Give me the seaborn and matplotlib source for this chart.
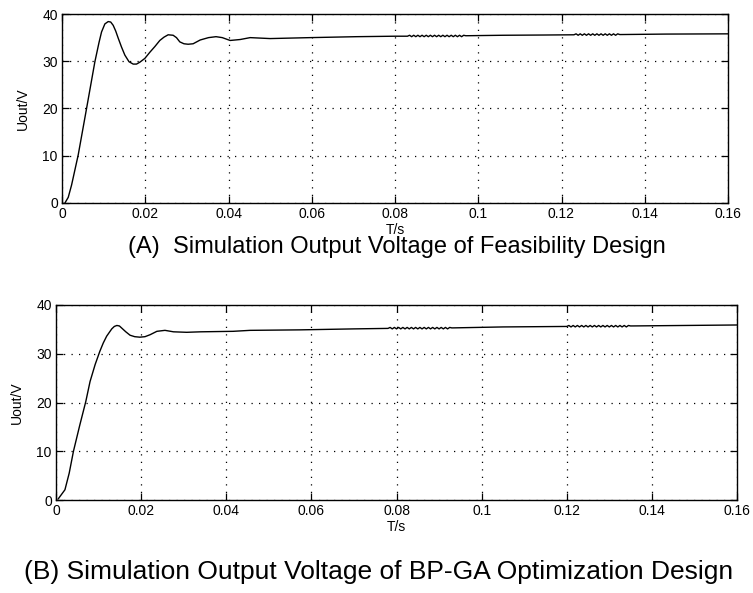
import numpy as np
import pandas as pd
import matplotlib
matplotlib.use("Agg")
import matplotlib.pyplot as plt
import seaborn as sns

# ---- data ----
t_a = [0.0007, 0.0015, 0.0023, 0.0039, 0.0059, 0.0079, 0.0089, 0.0095, 0.0103, 0.0111,
       0.0117, 0.0123, 0.0129, 0.0135, 0.0143, 0.0151, 0.0161, 0.0171, 0.0179, 0.0187,
       0.0199, 0.0211, 0.0223, 0.0235, 0.0245, 0.0255, 0.0267, 0.0275, 0.0283, 0.0293,
       0.0303, 0.0315, 0.0332, 0.0352, 0.0370, 0.0385, 0.0404, 0.0428, 0.0452, 0.0500,
       0.0548, 0.0596, 0.0708, 0.0800,
       0.0830, 0.0835, 0.0840, 0.0845, 0.0850, 0.0855, 0.0860, 0.0865, 0.0870, 0.0875,
       0.0880, 0.0885, 0.0890, 0.0895, 0.0900, 0.0905, 0.0910, 0.0915, 0.0920, 0.0925,
       0.0930, 0.0935, 0.0940, 0.0945, 0.0950, 0.0955, 0.0960, 0.0965, 0.0970,
       0.1060, 0.1156,
       0.1230, 0.1235, 0.1240, 0.1245, 0.1250, 0.1255, 0.1260, 0.1265, 0.1270, 0.1275,
       0.1280, 0.1285, 0.1290, 0.1295, 0.1300, 0.1305, 0.1310, 0.1315, 0.1320, 0.1325,
       0.1330, 0.1335, 0.1340,
       0.1450, 0.1600]
v_a = [0.0, 1.2, 3.8, 10.2, 20.0, 29.9, 34.0, 36.2, 37.9, 38.4,
       38.3, 37.6, 36.4, 34.9, 33.0, 31.3, 29.9, 29.4, 29.4, 29.8,
       30.6, 31.9, 33.1, 34.4, 35.1, 35.6, 35.5, 35.0, 34.1, 33.7,
       33.6, 33.7, 34.5, 35.0, 35.2, 35.0, 34.4, 34.6, 35.0, 34.8,
       34.9, 35.0, 35.2, 35.3,
       35.3, 35.5, 35.2, 35.5, 35.2, 35.5, 35.2, 35.5, 35.2, 35.5,
       35.2, 35.5, 35.2, 35.5, 35.2, 35.5, 35.2, 35.5, 35.2, 35.5,
       35.2, 35.5, 35.2, 35.5, 35.2, 35.5, 35.2, 35.5, 35.4,
       35.5, 35.55,
       35.6, 35.8, 35.5, 35.8, 35.5, 35.8, 35.5, 35.8, 35.5, 35.8,
       35.5, 35.8, 35.5, 35.8, 35.5, 35.8, 35.5, 35.8, 35.5, 35.8,
       35.5, 35.8, 35.65,
       35.75, 35.8]

t_b = [0.0005, 0.0021, 0.0031, 0.0041, 0.0056, 0.0070, 0.0080, 0.0092, 0.0103, 0.0111,
       0.0119, 0.0131, 0.0137, 0.0143, 0.0149, 0.0154, 0.0164, 0.0174, 0.0185, 0.0197,
       0.0209, 0.0221, 0.0237, 0.0256, 0.0276, 0.0307, 0.0340, 0.0416, 0.0456, 0.0573,
       0.0700,
       0.0780, 0.0785, 0.0790, 0.0795, 0.0800, 0.0805, 0.0810, 0.0815, 0.0820, 0.0825,
       0.0830, 0.0835, 0.0840, 0.0845, 0.0850, 0.0855, 0.0860, 0.0865, 0.0870, 0.0875,
       0.0880, 0.0885, 0.0890, 0.0895, 0.0900, 0.0905, 0.0910, 0.0915, 0.0920, 0.0925,
       0.0930,
       0.1050,
       0.1200, 0.1205, 0.1210, 0.1215, 0.1220, 0.1225, 0.1230, 0.1235, 0.1240, 0.1245,
       0.1250, 0.1255, 0.1260, 0.1265, 0.1270, 0.1275, 0.1280, 0.1285, 0.1290, 0.1295,
       0.1300, 0.1305, 0.1310, 0.1315, 0.1320, 0.1325, 0.1330, 0.1335, 0.1340, 0.1345,
       0.1350,
       0.1600]
v_b = [0.2, 2.1, 5.5, 10.0, 15.4, 20.2, 24.3, 27.8, 30.5, 32.2,
       33.6, 35.1, 35.6, 35.8, 35.7, 35.3, 34.5, 33.8, 33.5, 33.4,
       33.5, 33.9, 34.6, 34.8, 34.5, 34.4, 34.5, 34.6, 34.8, 34.9,
       35.1,
       35.2, 35.4, 35.1, 35.4, 35.1, 35.4, 35.1, 35.4, 35.1, 35.4,
       35.1, 35.4, 35.1, 35.4, 35.1, 35.4, 35.1, 35.4, 35.1, 35.4,
       35.1, 35.4, 35.1, 35.4, 35.1, 35.4, 35.1, 35.4, 35.1, 35.4,
       35.3,
       35.5,
       35.6, 35.8, 35.5, 35.8, 35.5, 35.8, 35.5, 35.8, 35.5, 35.8,
       35.5, 35.8, 35.5, 35.8, 35.5, 35.8, 35.5, 35.8, 35.5, 35.8,
       35.5, 35.8, 35.5, 35.8, 35.5, 35.8, 35.5, 35.8, 35.5, 35.8,
       35.7,
       35.9]

x_ticks = [0, 0.02, 0.04, 0.06, 0.08, 0.1, 0.12, 0.14, 0.16]
x_labels = ["0", "0.02", "0.04", "0.06", "0.08", "0.1", "0.12", "0.14", "0.16"]
y_ticks = [0, 10, 20, 30, 40]
caption_a = "(A)  Simulation Output Voltage of Feasibility Design"
caption_b = "(B) Simulation Output Voltage of BP-GA Optimization Design"

sns.set_theme(style="white")
plt.rcParams["font.family"] = ["Liberation Sans Narrow", "Liberation Sans", "DejaVu Sans"]

W, H = 753, 593
fig = plt.figure(figsize=(W / 100, H / 100), dpi=100)

def make_ax(l, r, t, b):
    return fig.add_axes([l / W, 1 - b / H, (r - l) / W, (b - t) / H])

ax1 = make_ax(62, 728, 14, 203)
ax2 = make_ax(56, 737, 305, 500)

df_a = pd.DataFrame({"t": t_a, "v": v_a})
df_b = pd.DataFrame({"t": t_b, "v": v_b})

for ax, df in ((ax1, df_a), (ax2, df_b)):
    sns.lineplot(data=df, x="t", y="v", ax=ax, color="black", linewidth=1.0,
                 sort=False, estimator=None)
    ax.set_xlim(0, 0.16)
    ax.set_ylim(0, 40)
    ax.set_xticks(x_ticks)
    ax.set_xticklabels(x_labels)
    ax.set_yticks(y_ticks)
    ax.tick_params(direction="in", length=5, width=0.9, colors="black",
                   labelsize=10, top=True, right=True, bottom=True, left=True,
                   pad=3)
    ax.grid(True, color="black", linestyle=(0, (1, 5)), linewidth=0.9)
    for s in ax.spines.values():
        s.set_visible(True)
        s.set_color("black")
        s.set_linewidth(1.0)
    ax.set_xlabel("T/s", fontsize=10, color="black", labelpad=1)
    ax.set_ylabel("Uout/V", fontsize=10, color="black", labelpad=9)
    ax.set_facecolor("white")

fig.text(397 / W, 1 - 247 / H, caption_a, ha="center", va="center",
         fontsize=17, family=["Liberation Sans", "DejaVu Sans"], color="black")
fig.text(379 / W, 1 - 572 / H, caption_b, ha="center", va="center",
         fontsize=19, family=["Liberation Sans", "DejaVu Sans"], color="black")

fig.savefig("out.png", dpi=100, facecolor="white")
